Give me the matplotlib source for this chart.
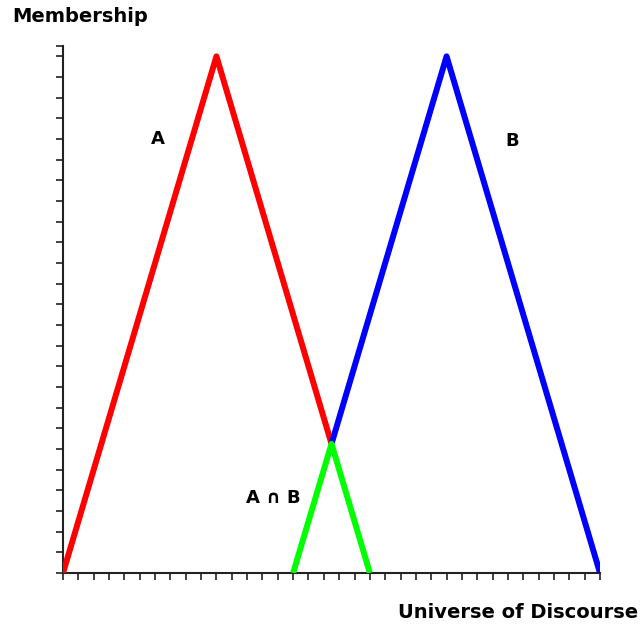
import matplotlib
matplotlib.use("Agg")
import matplotlib.pyplot as plt
import numpy as np

# Fuzzy sets (universe, membership)
a_x = [0, 10, 17.5]
a_y = [0, 1, 0.25]
b_x = [17.5, 25, 35]
b_y = [0.25, 1, 0]
ab_x = [15, 17.5, 20]
ab_y = [0, 0.25, 0]

labels = {"A": (6.2, 0.84), "B": (29.25, 0.837), "A ∩ B": (13.7, 0.145)}

fig = plt.figure(figsize=(6.41, 6.25), dpi=100)
ax = fig.add_axes([63/641, (625-573)/625, (600-63)/641, (573-46)/625])

ax.plot(a_x, a_y, color="#ff0000", lw=4.3, solid_capstyle="butt", zorder=3)
ax.plot(b_x, b_y, color="#0000ff", lw=4.3, solid_capstyle="butt", zorder=3)
ax.plot(ab_x, ab_y, color="#00ff00", lw=4.3, solid_capstyle="butt", zorder=4)

ax.set_xlim(0, 35)
ax.set_ylim(0, 1.02)
ax.set_xticks(np.arange(0, 36, 1))
ax.set_yticks(list(np.arange(0, 1.001, 0.04)) + [1.02])
ax.set_xticklabels([])
ax.set_yticklabels([])
ax.tick_params(axis="x", direction="out", length=5, width=1.2, color="#222222")
ax.tick_params(axis="y", direction="out", length=5, width=1.2, color="#222222")
for s in ["top", "right"]:
    ax.spines[s].set_visible(False)
for s in ["left", "bottom"]:
    ax.spines[s].set_linewidth(1.5)
    ax.spines[s].set_color("#222222")

for t, (x, y) in labels.items():
    ax.text(x, y, t, ha="center", va="center", fontsize=13,
            fontweight="bold", family="DejaVu Sans")

fig.text(12/641, 1 - 17/625, "Membership", ha="left", va="center",
         fontsize=14, fontweight="bold", family="DejaVu Sans")
fig.text(638/641, 1 - 612/625, "Universe of Discourse", ha="right", va="center",
         fontsize=14, fontweight="bold", family="DejaVu Sans")

fig.savefig("out.png", dpi=100)
